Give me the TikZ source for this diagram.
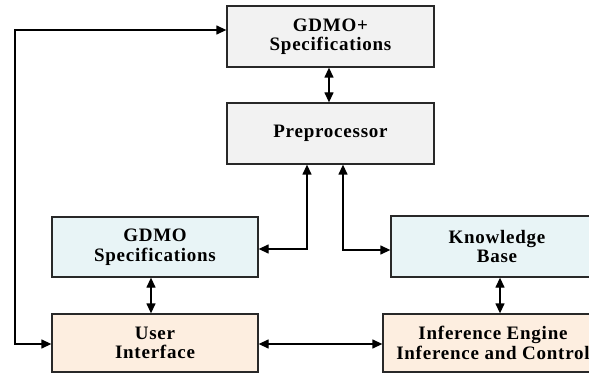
\documentclass[tikz,border=0pt]{standalone}
\usepackage{fontspec}
\setmainfont{Liberation Serif}[LetterSpace=4]
\usetikzlibrary{arrows.meta}
\definecolor{boxgray}{RGB}{242,242,242}
\definecolor{boxblue}{RGB}{232,244,246}
\definecolor{boxpeach}{RGB}{253,238,224}
\definecolor{edge}{RGB}{40,40,40}
\tikzset{
  blk/.style={draw=edge, line width=1.3pt, align=center, inner sep=0pt,
    font=\fontsize{19}{19.5}\selectfont\bfseries, text=black},
  dbl/.style={line width=1.3pt, {Triangle[length=10pt,width=9pt]}-{Triangle[length=10pt,width=9pt]}}
}
\begin{document}
\begin{tikzpicture}[x=1pt,y=-1pt]
\useasboundingbox (0,0) rectangle (589,374);
\fill[white] (0,0) rectangle (589,374);
\node[blk, fill=boxgray, minimum width=207pt, minimum height=61pt] (gp) at (330.5,36.5) {GDMO+\\Specifications};
\node[blk, fill=boxgray, minimum width=207pt, minimum height=61pt] (pre) at (330.5,133.5) {Preprocessor};
\node[blk, fill=boxblue, minimum width=206pt, minimum height=60pt] (gs) at (155,247) {GDMO\\Specifications};
\node[blk, fill=boxblue, minimum width=212pt, minimum height=61pt] (kb) at (497,246.5) {Knowledge\\Base};
\node[blk, fill=boxpeach, minimum width=206pt, minimum height=58pt] (ui) at (155,343) {User\\Interface};
\node[blk, fill=boxpeach, minimum width=220pt, minimum height=58pt] (ie) at (493,343) {Inference Engine\\Inference and Control};
\coordinate (lp) at (15,30);
\draw[dbl] ([xshift=-1.5pt]gp.south) -- ([xshift=-1.5pt]pre.north);
\draw[dbl] ([xshift=-23.5pt]pre.south) |- ([yshift=-2pt]gs.east);
\draw[dbl] ([xshift=12.5pt]pre.south) |- ([yshift=-3.5pt]kb.west);
\draw[dbl] ([xshift=-4pt]gs.south) -- ([xshift=-4pt]ui.north);
\draw[dbl] ([xshift=3pt]kb.south) -- ([xshift=3pt]kb.south |- ie.north);
\draw[dbl] ([yshift=-1pt]ui.east) -- ([yshift=-1pt]ie.west);
\draw[dbl] ([yshift=6.5pt]gp.west) -- (lp) |- ([yshift=-1pt]ui.west);
\end{tikzpicture}
\end{document}
